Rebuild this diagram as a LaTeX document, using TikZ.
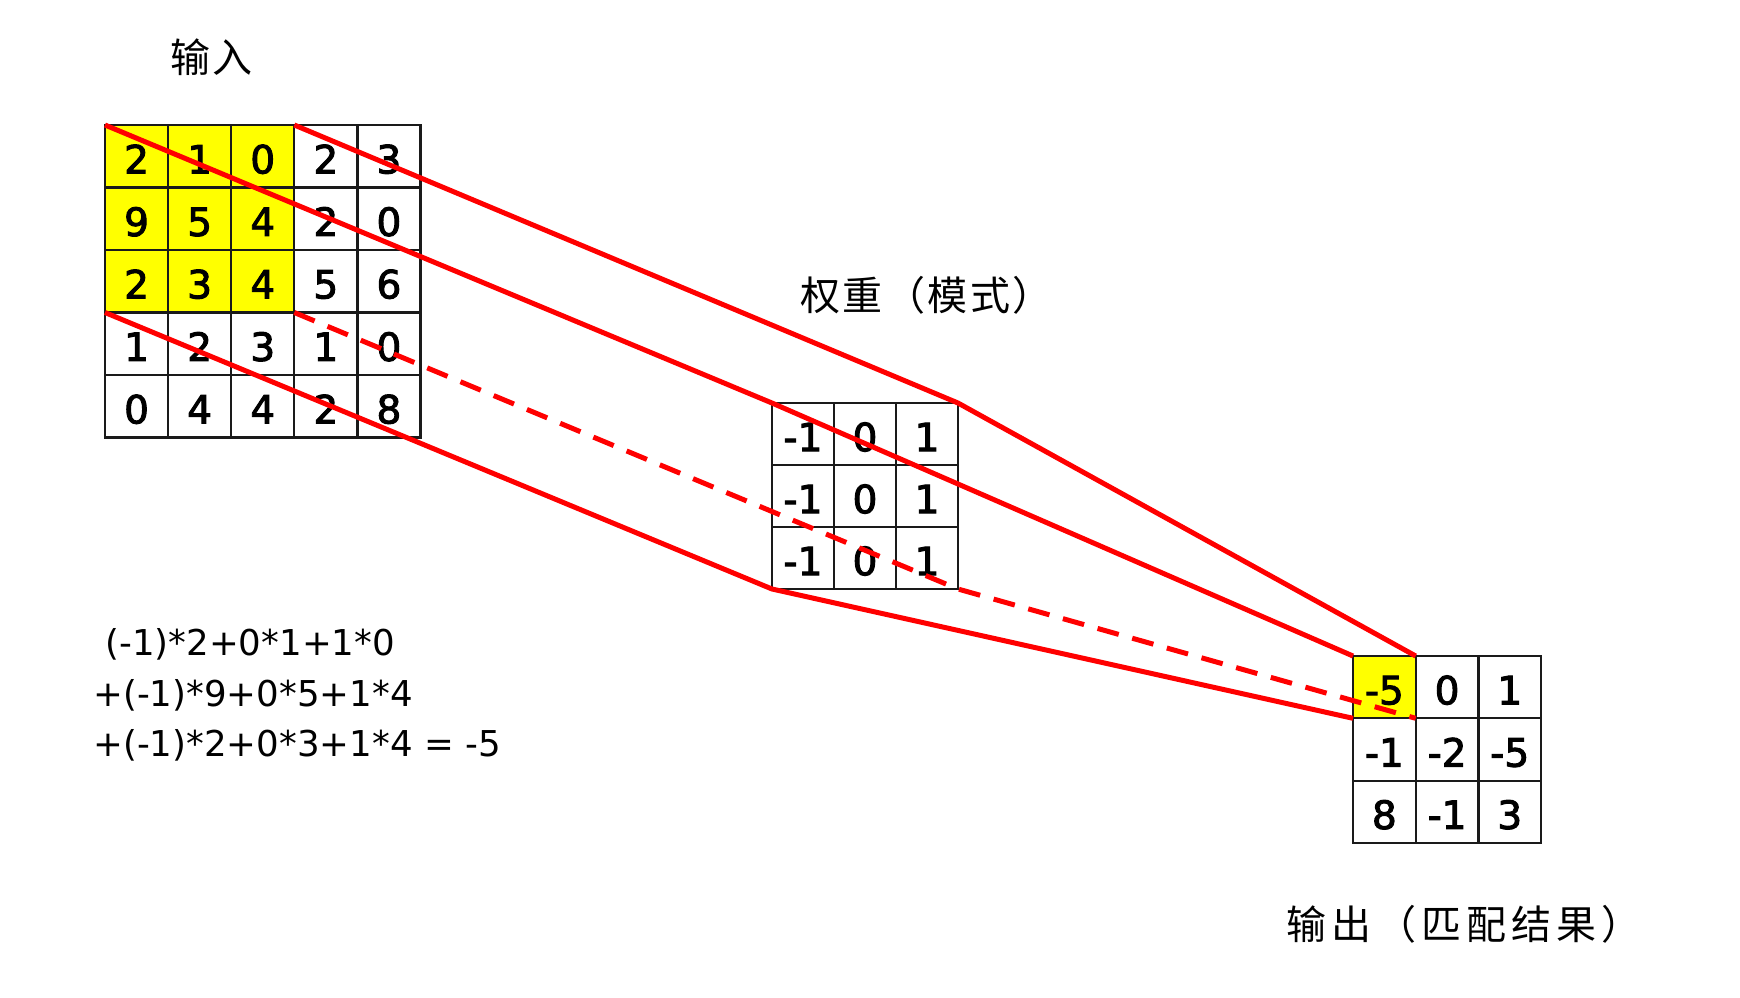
\documentclass[tikz,border=0pt]{standalone}
\usepackage{fontspec}
\setmainfont{DejaVu Sans}
\newfontfamily\digfont[FakeBold=2.5]{DejaVu Sans}
\newfontfamily\cjkA[LetterSpace=12.5]{Noto Sans CJK SC}
\newfontfamily\cjkB[LetterSpace=6]{Noto Sans CJK SC}
\definecolor{gridc}{HTML}{1A1A1A}
\definecolor{hl}{HTML}{FFFF00}
\definecolor{redc}{HTML}{FF0000}
\begin{document}
\begin{tikzpicture}[x=0.5pt,y=-0.5pt,
  cellbase/.style={draw=gridc, line width=1.1pt, inner sep=0pt, outer sep=0pt,
    anchor=north west, text height=17.2pt, text depth=0pt,
    font=\digfont\fontsize{19.5pt}{20pt}\selectfont},
  cellA/.style={cellbase, minimum width=31.55pt, minimum height=31.25pt},
  cellW/.style={cellbase, minimum width=31pt, minimum height=31pt},
  cellO/.style={cellbase, minimum width=31.35pt, minimum height=31.15pt},
  redline/.style={draw=redc, line width=2.5pt, line join=round},
  reddash/.style={redline, dash pattern=on 11pt off 7pt},
  formula/.style={anchor=base west, inner sep=0pt, font=\fontsize{17.8pt}{20pt}\selectfont},
  cjklabel/.style={anchor=base west, inner sep=0pt}
]
\useasboundingbox (0,0) rectangle (1740,997);
\fill[white] (0,0) rectangle (1740,997);

% input grid
\foreach \r/\vals in {0/{2,1,0,2,3},1/{9,5,4,2,0},2/{2,3,4,5,6},3/{1,2,3,1,0},4/{0,4,4,2,8}}{
  \foreach \v [count=\c from 0] in \vals {
    \ifnum\r<3 \ifnum\c<3 \def\fc{hl}\else\def\fc{white}\fi\else\def\fc{white}\fi
    \node[cellA, fill=\fc] (in-\r-\c) at ({105+\c*63.1},{125+\r*62.5}) {\v};
  }
}

% weight grid
\foreach \r in {0,1,2}{
  \foreach \v [count=\c from 0] in {-1,0,1} {
    \node[cellW, fill=white] (w-\r-\c) at ({772+\c*62},{403+\r*62}) {\v};
  }
}

% output grid
\foreach \r/\vals in {0/{-5,0,1},1/{-1,-2,-5},2/{8,-1,3}}{
  \foreach \v [count=\c from 0] in \vals {
    \ifnum\r=0 \ifnum\c=0 \def\fc{hl}\else\def\fc{white}\fi\else\def\fc{white}\fi
    \node[cellO, fill=\fc] (o-\r-\c) at ({1353+\c*62.7},{656+\r*62.3}) {\v};
  }
}

% labels
\node[cjklabel, font=\cjkB\fontsize{20pt}{24pt}\selectfont] (lin) at (170,72) {输入};
\node[cjklabel, font=\cjkB\fontsize{20pt}{24pt}\selectfont] (lw) at (800,310) {权重（模式）};
\node[cjklabel, font=\cjkA\fontsize{20pt}{24pt}\selectfont] (lout) at (1286,939) {输\hspace{2.5pt}出（匹配结果）};

% formula
\node[formula] (f1) at (105,655) {(-1)*2+0*1+1*0};
\node[formula] (f2) at (93,706) {+(-1)*9+0*5+1*4};
\node[formula] (f3) at (93,756) {+(-1)*2+0*3+1*4 = -5};

% connectors
\draw[redline] (in-0-3.north west) -- (w-0-2.north east) -- (o-0-0.north east);
\draw[redline] (in-0-0.north west) -- (w-0-0.north west) -- (o-0-0.north west);
\draw[redline] (in-3-0.north west) -- (w-2-0.south west) -- (o-0-0.south west);
\draw[reddash] (in-3-3.north west) -- (w-2-2.south east) -- (o-0-0.south east);
\end{tikzpicture}
\end{document}
